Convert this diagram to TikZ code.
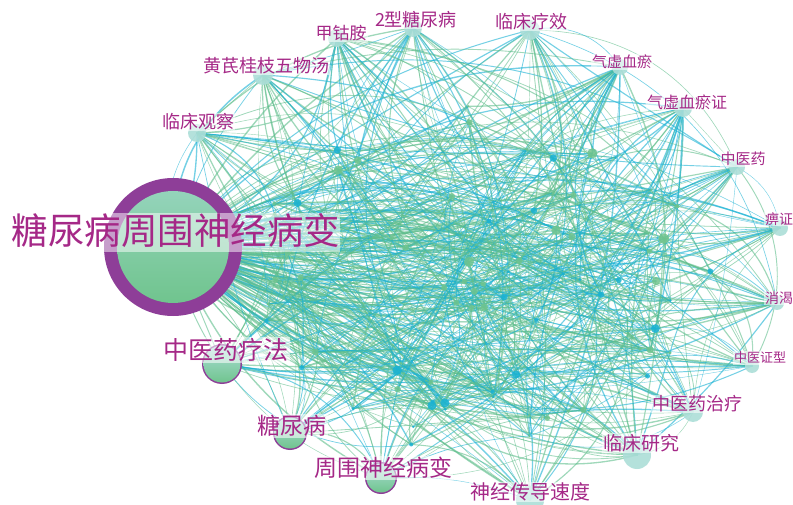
\documentclass[tikz,border=0pt]{standalone}
\usepackage{fontspec}
\newfontfamily\cjk{Noto Sans CJK SC}
\definecolor{lbl}{RGB}{165,40,135}
\definecolor{ring}{RGB}{142,62,152}
\definecolor{egreen}{RGB}{95,190,140}
\definecolor{ecyan}{RGB}{25,178,212}
\definecolor{nteal}{RGB}{172,222,216}
\definecolor{ngreen}{RGB}{112,196,142}
\tikzset{
  lab/.style={text=lbl, inner sep=1pt, fill=white, fill opacity=0.55, text opacity=1},
  edgeline/.style={line cap=round},
}
\newcommand{\labfont}[1]{\cjk\fontsize{#1}{#1}\selectfont}
\begin{document}
\begin{tikzpicture}[x=1pt,y=-1pt]
\useasboundingbox (0,0) rectangle (793,505);
\fill[white] (0,0) rectangle (793,505);
% ---- node positions ----
\coordinate (v1) at (173,247);
\coordinate (v2) at (222,364);
\coordinate (v3) at (290,433);
\coordinate (v4) at (381,478);
\coordinate (v5) at (530,500);
\coordinate (v6) at (637,455);
\coordinate (v7) at (693,412);
\coordinate (v8) at (752,366);
\coordinate (v9) at (777,303);
\coordinate (v10) at (780,228);
\coordinate (v11) at (737,167);
\coordinate (v12) at (683,108);
\coordinate (v13) at (620,67);
\coordinate (v14) at (530,30);
\coordinate (v15) at (413,28);
\coordinate (v16) at (337,38);
\coordinate (v17) at (263,75);
\coordinate (v18) at (197,133);
\pgfmathsetseed{4242}
\foreach \i in {19,...,105}{
  \pgfmathsetmacro\ang{360*rnd}
  \pgfmathsetmacro\rr{sqrt(rnd)}
  \pgfmathsetmacro\px{480+240*\rr*cos(\ang)}
  \pgfmathsetmacro\py{280+175*\rr*sin(\ang)}
  \coordinate (v\i) at (\px,\py);
}
% ---- edges ----
\foreach \rep in {1,2}{
\foreach \j in {2,...,105}{
  \pgfmathsetmacro\bb{rnd*60-30}
  \pgfmathsetmacro\lw{0.5+rnd*1.0}
  \pgfmathtruncatemacro\cc{rnd<0.62}
  \ifnum\cc=1 \def\col{egreen}\else\def\col{ecyan}\fi
  \draw[edgeline, draw=\col, line width=\lw pt, draw opacity=0.6] (v1) to[bend left=\bb] (v\j);
}}
\foreach \i in {2,...,18}{
  \foreach \k in {1,...,20}{
    \pgfmathtruncatemacro\j{random(2,105)}
    \pgfmathsetmacro\bb{rnd*70-35}
    \pgfmathsetmacro\lw{0.4+rnd*1.0}
    \pgfmathtruncatemacro\cc{rnd<0.62}
    \ifnum\cc=1 \def\col{egreen}\else\def\col{ecyan}\fi
    \draw[edgeline, draw=\col, line width=\lw pt, draw opacity=0.6] (v\i) to[bend left=\bb] (v\j);
  }
}
\foreach \k in {1,...,300}{
  \pgfmathtruncatemacro\a{random(2,105)}
  \pgfmathtruncatemacro\b{random(19,105)}
  \pgfmathsetmacro\bb{rnd*60-30}
  \pgfmathsetmacro\lw{0.4+rnd*0.8}
  \pgfmathtruncatemacro\cc{rnd<0.62}
  \ifnum\cc=1 \def\col{egreen}\else\def\col{ecyan}\fi
  \draw[edgeline, draw=\col, line width=\lw pt, draw opacity=0.55] (v\a) to[bend left=\bb] (v\b);
}
% ---- interior dots ----
\foreach \i in {19,...,105}{
  \pgfmathsetmacro\rad{1.2+5*rnd*rnd}
  \pgfmathtruncatemacro\cc{rnd<0.62}
  \ifnum\cc=1 \def\col{ngreen}\else\def\col{ecyan}\fi
  \fill[\col, opacity=0.85] (v\i) circle (\rad);
}
% ---- peripheral nodes ----
\foreach \i/\r in {5/14,6/14,7/10,8/7,9/7,10/8,11/8,12/9,13/8,14/10,15/9,16/9,17/10,18/9}{
  \fill[nteal, opacity=0.9] (v\i) circle (\r);
}
\foreach \i/\r in {2/20,3/17,4/16}{
  \fill[ring] (v\i) circle (\r);
  \shade[top color=nteal, bottom color=ngreen] (v\i) circle (\r-1.5);
}
% ---- big node ----
\fill[ring] (v1) circle (69);
\shade[top color=nteal!60!ngreen, bottom color=ngreen] (v1) circle (56);
\fill[white, opacity=0.5] (103,213) rectangle (340,252);
% ---- labels ----
\node[text=lbl, inner sep=0pt] (t1) at (176,231) {\labfont{36.5}糖尿病周围神经病变};
\node[lab] (t2) at (226,350) {\labfont{25}中医药疗法};
\node[lab] (t3) at (292,426) {\labfont{23}糖尿病};
\node[lab] (t4) at (383,468) {\labfont{23}周围神经病变};
\node[lab] (t5) at (530,492) {\labfont{20}神经传导速度};
\node[lab] (t6) at (641,443) {\labfont{19}临床研究};
\node[lab] (t7) at (697,404) {\labfont{18}中医药治疗};
\node[lab] (t8) at (760,358) {\labfont{13}中医证型};
\node[lab] (t9) at (779,298) {\labfont{14}消渴};
\node[lab] (t10) at (779,219) {\labfont{14}痹证};
\node[lab] (t11) at (743,159) {\labfont{15}中医药};
\node[lab] (t12) at (687,102) {\labfont{16}气虚血瘀证};
\node[lab] (t13) at (622,62) {\labfont{15}气虚血瘀};
\node[lab] (t14) at (531,22) {\labfont{18}临床疗效};
\node[lab] (t15) at (416,20) {\labfont{18}2型糖尿病};
\node[lab] (t16) at (341,33) {\labfont{17}甲钴胺};
\node[lab] (t17) at (266,66) {\labfont{18}黄芪桂枝五物汤};
\node[lab] (t18) at (198,122) {\labfont{18}临床观察};
\end{tikzpicture}
\end{document}
